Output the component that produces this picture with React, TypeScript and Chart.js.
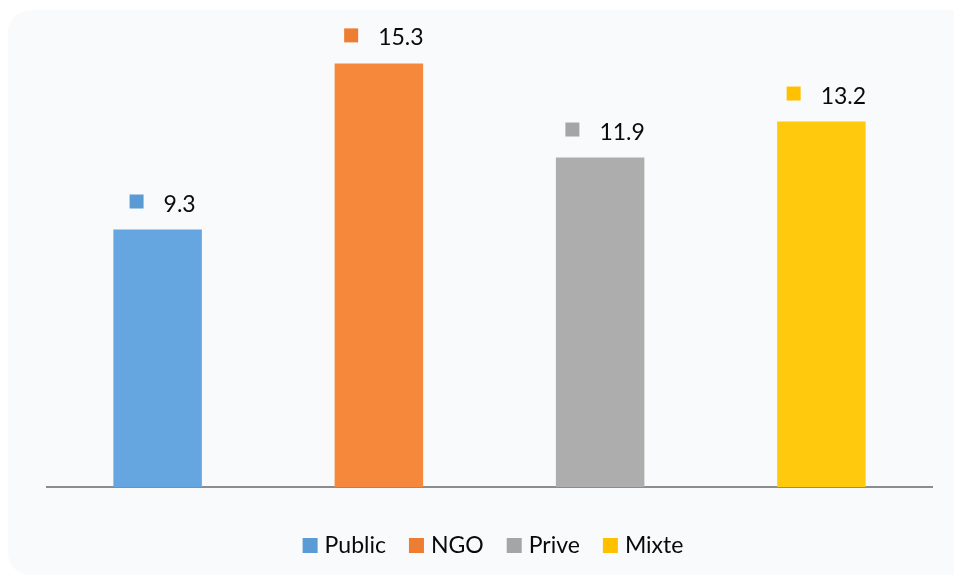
import React, { useEffect, useRef } from "react";
import { Chart, registerables } from "chart.js";

Chart.register(...registerables);

const categories = ["Public", "NGO", "Prive", "Mixte"];
const values = [9.3, 15.3, 11.9, 13.2];
const barColors = ["#66a6e0", "#f5883a", "#adadad", "#ffc90d"];
const keyColors = ["#5b9bd5", "#ed7d31", "#a5a5a5", "#ffc000"];

const FONT = "Lato, 'Open Sans', sans-serif";
const FONT_SIZE = 23;

// Small colour key + value above each bar
const valueLabels = {
  id: "valueLabels",
  afterDatasetsDraw(chart: any) {
    const ctx = chart.ctx;
    const meta = chart.getDatasetMeta(0);
    ctx.save();
    ctx.font = `${FONT_SIZE}px ${FONT}`;
    ctx.textBaseline = "alphabetic";
    ctx.textAlign = "left";
    meta.data.forEach((bar: any, i: number) => {
      const text = String(values[i]);
      const tw = ctx.measureText(text).width;
      const sq = 14;
      const gap = 20;
      const total = sq + gap + tw;
      const x0 = bar.x + 5 - total / 2;
      ctx.fillStyle = keyColors[i];
      ctx.fillRect(x0, bar.y - 35, sq, sq);
      ctx.fillStyle = "#0a0a0a";
      ctx.fillText(text, x0 + sq + gap, bar.y - 18);
    });
    ctx.restore();
  },
};

// Legend row under the axis
const bottomLegend = {
  id: "bottomLegend",
  afterDraw(chart: any) {
    const ctx = chart.ctx;
    ctx.save();
    ctx.font = `${FONT_SIZE}px ${FONT}`;
    ctx.textBaseline = "alphabetic";
    ctx.textAlign = "left";
    const sq = 15;
    const gapIn = 7;
    const gapOut = 23;
    const widths = categories.map((c) => ctx.measureText(c).width);
    const total =
      widths.reduce((a, w) => a + sq + gapIn + w, 0) + gapOut * (categories.length - 1);
    let x = 493 - total / 2;
    const yTop = 538;
    categories.forEach((c, i) => {
      ctx.fillStyle = keyColors[i];
      ctx.fillRect(x, yTop, sq, sq);
      ctx.fillStyle = "#0a0a0a";
      ctx.fillText(c, x + sq + gapIn, yTop + sq);
      x += sq + gapIn + widths[i] + gapOut;
    });
    ctx.restore();
  },
};

export default function App() {
  const canvasRef = useRef<HTMLCanvasElement | null>(null);

  useEffect(() => {
    document.body.style.overflow = "hidden";
    const canvas = canvasRef.current;
    if (!canvas) return;
    const chart = new Chart(canvas, {
      type: "bar",
      data: {
        labels: categories,
        datasets: [
          {
            label: "Valeur",
            data: values,
            backgroundColor: barColors,
            borderWidth: 0,
            categoryPercentage: 1,
            barPercentage: 0.4,
          },
        ],
      },
      options: {
        animation: false,
        responsive: false,
        devicePixelRatio: 1,
        layout: { padding: { left: 47, right: 22, top: 44, bottom: 90 } },
        plugins: {
          legend: { display: false },
          tooltip: { enabled: false },
        },
        scales: {
          x: {
            grid: { display: false, drawTicks: false },
            ticks: { display: false },
            border: { display: true, color: "#8c8c8c", width: 2 },
          },
          y: {
            display: false,
            min: 0,
            max: 16,
          },
        },
      },
      plugins: [valueLabels, bottomLegend],
    });
    return () => chart.destroy();
  }, []);

  return (
    <div style={{ position: "absolute", left: 0, top: 0, width: 954, height: 577, overflow: "hidden" }}>
      <div
        style={{
          position: "absolute",
          left: 8,
          top: 10,
          width: 980,
          height: 565,
          borderRadius: 22,
          background: "#f9fafb",
        }}
      />
      <canvas
        ref={canvasRef}
        width={954}
        height={577}
        style={{ position: "absolute", left: 0, top: 0, width: 954, height: 577 }}
      />
    </div>
  );
}
